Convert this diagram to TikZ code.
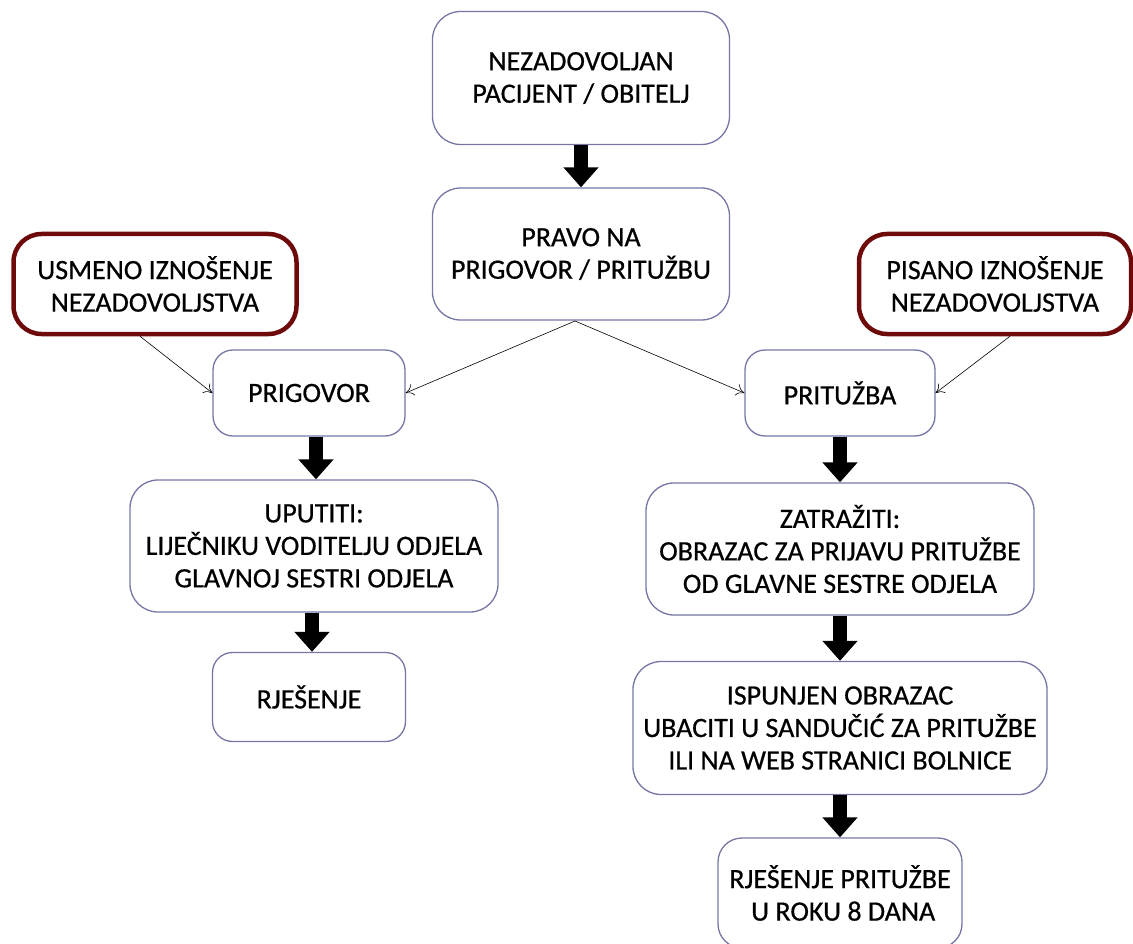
\documentclass[tikz,border=0pt]{standalone}
\usepackage{fontspec}
\setmainfont{Carlito}
\newfontfamily\boxfont{Carlito}[FakeBold=0.6]
\usetikzlibrary{arrows.meta}
\definecolor{boxline}{HTML}{7676A6}
\definecolor{darkred}{HTML}{6E0A0A}
\tikzset{
  x=1pt,y=-1pt,
  flowbox/.style={draw=boxline, line width=1.3pt, rounded corners=28pt, fill=white, align=center, font=\boxfont\fontsize{28}{32.5}\selectfont, inner sep=0pt},
  redbox/.style={draw=darkred, line width=4.5pt, rounded corners=28pt, fill=white, align=center, font=\boxfont\fontsize{28}{32.5}\selectfont, inner sep=0pt},
  bigarrow/.style={line width=14pt, -{Triangle[width=34pt,length=20pt]}, shorten <=0pt},
  thinarrow/.style={line width=0.6pt, -{To[length=8pt,width=12pt]}}
}
\begin{document}
\begin{tikzpicture}
\useasboundingbox (0,0) rectangle (1133,944);
\node[flowbox, minimum width=297pt, minimum height=133pt] (top) at (581,78) {NEZADOVOLJAN\\PACIJENT / OBITELJ};
\node[flowbox, minimum width=297pt, minimum height=132pt] (pravo) at (581,254) {PRAVO NA\\PRIGOVOR / PRITUŽBU};
\node[redbox, minimum width=283pt, minimum height=100pt] (usm) at (155,284) {USMENO IZNOŠENJE\\NEZADOVOLJSTVA};
\node[redbox, minimum width=272pt, minimum height=100pt] (pis) at (995,284) {PISANO IZNOŠENJE\\NEZADOVOLJSTVA};
\node[flowbox, rounded corners=20pt, minimum width=192pt, minimum height=86pt] (prig) at (309,393) {PRIGOVOR};
\node[flowbox, rounded corners=20pt, minimum width=190pt, minimum height=86pt] (prit) at (840,393) {PRITUŽBA};
\node[flowbox, minimum width=368pt, minimum height=132pt] (uput) at (314,546) {UPUTITI:\\LIJEČNIKU VODITELJU ODJELA\\GLAVNOJ SESTRI ODJELA};
\node[flowbox, minimum width=388pt, minimum height=132pt] (zatr) at (840,549) {ZATRAŽITI:\\OBRAZAC ZA PRIJAVU PRITUŽBE\\OD GLAVNE SESTRE ODJELA};
\node[flowbox, rounded corners=20pt, minimum width=193pt, minimum height=89pt] (rje) at (309,697) {RJEŠENJE};
\node[flowbox, minimum width=414pt, minimum height=133pt] (isp) at (840,728) {ISPUNJEN OBRAZAC\\UBACITI U SANDUČIĆ ZA PRITUŽBE\\ILI NA WEB STRANICI BOLNICE};
\node[flowbox, rounded corners=24pt, minimum width=244pt, minimum height=110pt] (fin) at (840,893) {RJEŠENJE PRITUŽBE\\\ U ROKU 8 DANA};
\draw[bigarrow] (top.south) -- (pravo.north);
\draw[bigarrow] (prig.south -| 316,0) -- (uput.north -| 316,0);
\draw[bigarrow] (uput.south -| 312,0) -- (rje.north -| 312,0);
\draw[bigarrow] (prit.south) -- (zatr.north);
\draw[bigarrow] (zatr.south) -- (isp.north);
\draw[bigarrow] (isp.south) -- (fin.north);
\coordinate (pb) at (575,321);
\draw[thinarrow] (pb) -- (prig.east);
\draw[thinarrow] (pb) -- (prit.west);
\draw[thinarrow] (usm.south -| 140,0) -- (prig.west);
\draw[thinarrow] (pis.south -| 1010,0) -- (prit.east);
\end{tikzpicture}
\end{document}
